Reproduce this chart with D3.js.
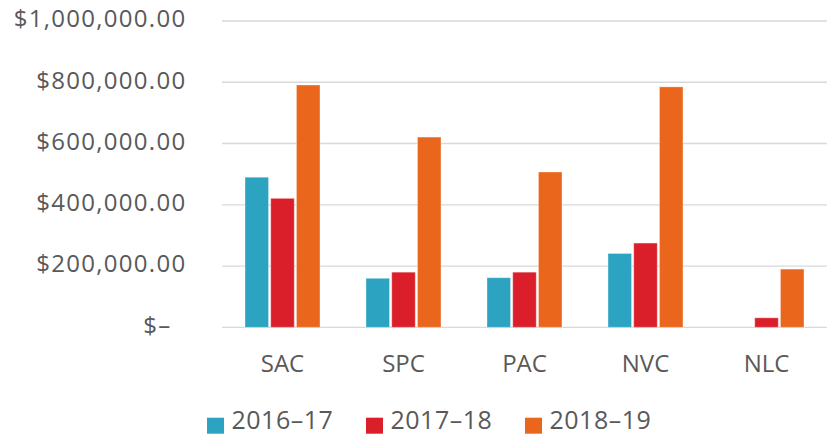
<!DOCTYPE html>
<html><head><meta charset="utf-8">
<script src="https://cdn.jsdelivr.net/npm/d3@7/dist/d3.min.js"></script>
<style>body{margin:0;background:#fff}svg{display:block}</style>
</head><body>
<svg id="c" width="827" height="436"></svg>
<script>
const categories = ["SAC","SPC","PAC","NVC","NLC"];
const seriesNames = ["2016\u201317","2017\u201318","2018\u201319"];
const values2016 = [490000,160000,162000,241000,0];
const values2017 = [421000,180000,180000,275000,31000];
const values2018 = [791000,621000,507000,785000,190000];
const yTicks = [0,200000,400000,600000,800000,1000000];
const colors = ["#2CA3C0","#DB1F2A","#EA661D"];

(function(){
const series = [values2016, values2017, values2018];
const svg = d3.select("#c");
const font = "'Open Sans', sans-serif";
const pLeft = 222, pRight = 827, pTop = 21, pBottom = 327.3;

const x = d3.scaleBand().domain(categories).range([pLeft, pRight]);
const y = d3.scaleLinear().domain([0,1000000]).range([pBottom, pTop]);
const x1 = d3.scaleBand().domain(d3.range(3)).range([0,75]).paddingInner(0.085);

// grid
svg.append("g").selectAll("line").data(yTicks).join("line")
  .attr("x1", pLeft).attr("x2", pRight)
  .attr("y1", d=>y(d)).attr("y2", d=>y(d))
  .attr("stroke", "#d9d9d9").attr("stroke-width", 1.3);

const fmt = d => d === 0 ? "$\u2013" : "$" + d3.format(",.2f")(d);
const yAxis = d3.axisLeft(y).tickValues(yTicks).tickFormat(fmt).tickSize(0).tickPadding(0);
const ga = svg.append("g").attr("transform", `translate(186.5,0)`).call(yAxis);
ga.select(".domain").remove();
ga.selectAll("text").attr("font-family", font).attr("font-size", 24).attr("fill", "#595959")
  .attr("dy", "0.24em").attr("letter-spacing", "1.3px");
ga.selectAll(".tick").filter(d=>d===0).select("text").attr("dx", -15);

// bars
const groups = svg.append("g").selectAll("g").data(categories).join("g")
  .attr("transform", c => `translate(${x(c) + x.bandwidth()/2 - 37.5},0)`);
groups.selectAll("rect").data((c,i) => series.map((s,k)=>({k, v:s[i]}))).join("rect")
  .filter(d => d.v > 0)
  .attr("x", d => x1(d.k)).attr("width", x1.bandwidth())
  .attr("y", d => y(d.v)).attr("height", d => pBottom - y(d.v))
  .attr("fill", d => colors[d.k])
  .attr("stroke", "rgba(255,255,255,0.35)").attr("stroke-width", 1);

// x axis labels
const xAxis = d3.axisBottom(x).tickSize(0).tickPadding(0);
const gx = svg.append("g").attr("transform", `translate(0,372.3)`).call(xAxis);
gx.select(".domain").remove();
gx.selectAll("text").attr("font-family", font).attr("font-size", 24).attr("fill", "#595959").attr("y", 0).attr("dy", 0);

// legend
const legSq = [207, 366, 525];
const leg = svg.append("g").selectAll("g").data(seriesNames).join("g")
  .attr("transform", (d,i)=>`translate(${legSq[i]},0)`);
leg.append("rect").attr("y", 417.7).attr("width", 17).attr("height", 16).attr("fill", (d,i)=>colors[i]);
leg.append("text").attr("x", 24.5).attr("y", 429.2).text(d=>d)
  .attr("font-family", font).attr("font-size", 25).attr("letter-spacing", "0.5px").attr("fill", "#595959");
})();
</script>
</body></html>
